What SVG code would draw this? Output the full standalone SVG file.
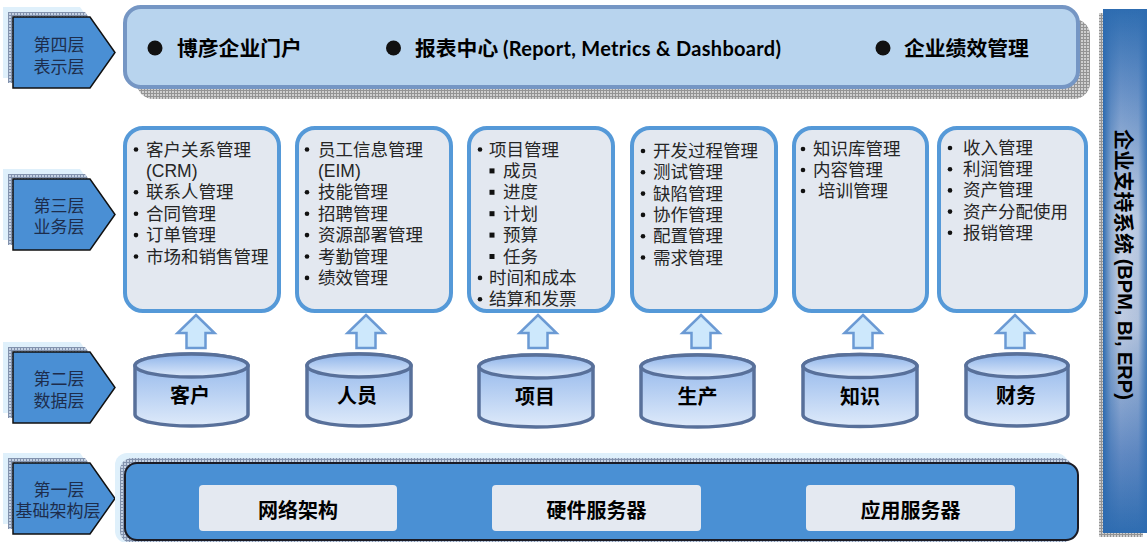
<svg xmlns="http://www.w3.org/2000/svg" width="1147" height="542" viewBox="0 0 1147 542">
<defs>
<pattern id="gridBlue" width="3" height="3" patternUnits="userSpaceOnUse">
<rect width="3" height="3" fill="#c3d0e2"/>
<path d="M0 0.5H3M0.5 0V3" stroke="#8292ad" stroke-width="1"/>
</pattern>
<pattern id="gridGray" width="3" height="3" patternUnits="userSpaceOnUse">
<rect width="3" height="3" fill="#cfcfcf"/>
<path d="M0 0.5H3M0.5 0V3" stroke="#939393" stroke-width="1"/>
</pattern>
<linearGradient id="cyl" x1="0" y1="0" x2="0" y2="1">
<stop offset="0" stop-color="#8db3ea"/>
<stop offset="1" stop-color="#deeafa"/>
</linearGradient>
<linearGradient id="sideV" x1="0" y1="0" x2="0" y2="1">
<stop offset="0" stop-color="#2e6db1"/>
<stop offset="0.15" stop-color="#6790c6"/>
<stop offset="0.4" stop-color="#c9d3e6"/>
<stop offset="0.6" stop-color="#bfcbe1"/>
<stop offset="0.85" stop-color="#6189c2"/>
<stop offset="1" stop-color="#2f6db1"/>
</linearGradient>
<linearGradient id="sideH" x1="0" y1="0" x2="1" y2="0">
<stop offset="0" stop-color="#2d6bb0" stop-opacity="1"/>
<stop offset="0.18" stop-color="#2d6bb0" stop-opacity="0.35"/>
<stop offset="0.4" stop-color="#2d6bb0" stop-opacity="0"/>
<stop offset="0.8" stop-color="#2d6bb0" stop-opacity="0.1"/>
<stop offset="1" stop-color="#2d6bb0" stop-opacity="0.85"/>
</linearGradient>
<polygon id="pent" points="0,0 77,0 102,35.5 77,71 0,71"/>
</defs>
<style>
.pent{fill:#4a8fd4;stroke:#111;stroke-width:1.5}
.glow{fill:#dff0fb}
.lbl{font-family:"Liberation Sans","Noto Sans CJK SC",sans-serif;font-size:17px;fill:#1d2d4c;text-anchor:middle}
.box3{fill:#e3e8f0;stroke:#5599d8;stroke-width:4}
.t3{font-family:"Liberation Sans","Noto Sans CJK SC",sans-serif;font-size:17.5px;fill:#262626}
.dot{fill:#111}
.arrow{fill:#cde8fc;stroke:#6b9ad4;stroke-width:2.5;stroke-linejoin:miter}
.cyl{fill:url(#cyl);stroke:#58709a;stroke-width:3.5}
.cl{font-family:"Noto Sans CJK SC","Noto Sans",sans-serif;font-size:20px;font-weight:bold;fill:#000;text-anchor:middle}
.top{font-family:"Noto Sans CJK SC","Noto Sans",sans-serif;font-size:20.8px;font-weight:bold;fill:#000}
.lat{font-family:Lato,"Open Sans",sans-serif;font-size:20px;letter-spacing:0.3px}
.inner{fill:#e4e9f1}
</style>

<g id="layer4-label">
<use href="#pent" x="3" y="7" class="glow"/>
<use href="#pent" x="8" y="12" fill="url(#gridBlue)"/>
<use href="#pent" x="13" y="17" class="pent"/>
<text class="lbl"><tspan x="59" y="51">第四层</tspan><tspan x="59" y="73">表示层</tspan></text>
</g>
<g id="layer3-label">
<use href="#pent" x="3" y="169" class="glow"/>
<use href="#pent" x="8" y="174" fill="url(#gridBlue)"/>
<use href="#pent" x="13" y="179" class="pent"/>
<text class="lbl"><tspan x="59" y="212">第三层</tspan><tspan x="59" y="233">业务层</tspan></text>
</g>
<g id="layer2-label">
<use href="#pent" x="3" y="342" class="glow"/>
<use href="#pent" x="8" y="347" fill="url(#gridBlue)"/>
<use href="#pent" x="13" y="352" class="pent"/>
<text class="lbl"><tspan x="59" y="385">第二层</tspan><tspan x="59" y="407">数据层</tspan></text>
</g>
<g id="layer1-label">
<use href="#pent" x="3" y="453" class="glow"/>
<use href="#pent" x="8" y="458" fill="url(#gridBlue)"/>
<use href="#pent" x="13" y="463" class="pent"/>
<text class="lbl"><tspan x="59" y="496">第一层</tspan><tspan x="58" y="517">基础架构层</tspan></text>
</g>

<g id="presentation">
<rect x="137" y="19" width="953" height="80" rx="16" fill="url(#gridGray)"/>
<rect x="125" y="7" width="953" height="80" rx="16" fill="#b8d4ee" stroke="#7596c4" stroke-width="4"/>
<circle class="dot" cx="155" cy="48" r="7.5"/>
<text class="top" x="177" y="56">博彦企业门户</text>
<circle class="dot" cx="393.5" cy="48" r="7.5"/>
<text class="top" x="415" y="56">报表中心 <tspan class="lat">(Report, Metrics &amp; Dashboard)</tspan></text>
<circle class="dot" cx="883" cy="48" r="7.5"/>
<text class="top" x="904" y="56">企业绩效管理</text>
</g>

<g id="biz-crm">
<rect class="box3" x="125" y="128" width="154" height="183" rx="18"/>
<g class="dot"><circle cx="136" cy="149.5" r="2.3"/><circle cx="136" cy="192.3" r="2.3"/><circle cx="136" cy="213.7" r="2.3"/><circle cx="136" cy="235.1" r="2.3"/><circle cx="136" cy="256.5" r="2.3"/></g>
<text class="t3"><tspan x="146" y="155.5">客户关系管理</tspan><tspan x="146" y="176.9">(CRM)</tspan><tspan x="146" y="198.3">联系人管理</tspan><tspan x="146" y="219.7">合同管理</tspan><tspan x="146" y="241.1">订单管理</tspan><tspan x="146" y="262.5">市场和销售管理</tspan></text>
</g>

<g id="biz-eim">
<rect class="box3" x="297" y="128" width="154" height="183" rx="18"/>
<g class="dot"><circle cx="307" cy="149.5" r="2.3"/><circle cx="307" cy="192.3" r="2.3"/><circle cx="307" cy="213.7" r="2.3"/><circle cx="307" cy="235.1" r="2.3"/><circle cx="307" cy="256.5" r="2.3"/><circle cx="307" cy="277.9" r="2.3"/></g>
<text class="t3"><tspan x="318" y="155.5">员工信息管理</tspan><tspan x="318" y="176.9">(EIM)</tspan><tspan x="318" y="198.3">技能管理</tspan><tspan x="318" y="219.7">招聘管理</tspan><tspan x="318" y="241.1">资源部署管理</tspan><tspan x="318" y="262.5">考勤管理</tspan><tspan x="318" y="283.9">绩效管理</tspan></text>
</g>

<g id="biz-project">
<rect class="box3" x="469" y="128" width="144" height="183" rx="18"/>
<g class="dot"><circle cx="480" cy="149.5" r="2.3"/><circle cx="480" cy="277.9" r="2.3"/><circle cx="480" cy="299.3" r="2.3"/>
<rect x="489.5" y="168.4" width="5" height="5"/><rect x="489.5" y="189.8" width="5" height="5"/><rect x="489.5" y="211.2" width="5" height="5"/><rect x="489.5" y="232.6" width="5" height="5"/><rect x="489.5" y="254" width="5" height="5"/></g>
<text class="t3"><tspan x="489" y="155.5">项目管理</tspan><tspan x="503" y="176.9">成员</tspan><tspan x="503" y="198.3">进度</tspan><tspan x="503" y="219.7">计划</tspan><tspan x="503" y="241.1">预算</tspan><tspan x="503" y="262.5">任务</tspan><tspan x="489" y="283.9">时间和成本</tspan><tspan x="489" y="305.3">结算和发票</tspan></text>
</g>

<g id="biz-dev">
<rect class="box3" x="632" y="128" width="144" height="183" rx="18"/>
<g class="dot"><circle cx="643" cy="151" r="2.3"/><circle cx="643" cy="172.3" r="2.3"/><circle cx="643" cy="193.6" r="2.3"/><circle cx="643" cy="214.9" r="2.3"/><circle cx="643" cy="236.2" r="2.3"/><circle cx="643" cy="257.5" r="2.3"/></g>
<text class="t3"><tspan x="653" y="157">开发过程管理</tspan><tspan x="653" y="178.3">测试管理</tspan><tspan x="653" y="199.6">缺陷管理</tspan><tspan x="653" y="220.9">协作管理</tspan><tspan x="653" y="242.2">配置管理</tspan><tspan x="653" y="263.5">需求管理</tspan></text>
</g>

<g id="biz-knowledge">
<rect class="box3" x="794" y="128" width="133" height="183" rx="18"/>
<g class="dot"><circle cx="803" cy="149" r="2.3"/><circle cx="803" cy="170" r="2.3"/><circle cx="803" cy="191" r="2.3"/></g>
<text class="t3"><tspan x="813" y="155">知识库管理</tspan><tspan x="813" y="176">内容管理</tspan><tspan x="818" y="197">培训管理</tspan></text>
</g>

<g id="biz-finance">
<rect class="box3" x="939" y="128" width="147" height="183" rx="18"/>
<g class="dot"><circle cx="950" cy="148" r="2.3"/><circle cx="950" cy="169.2" r="2.3"/><circle cx="950" cy="190.4" r="2.3"/><circle cx="950" cy="211.6" r="2.3"/><circle cx="950" cy="232.8" r="2.3"/></g>
<text class="t3"><tspan x="963" y="154">收入管理</tspan><tspan x="963" y="175.2">利润管理</tspan><tspan x="963" y="196.4">资产管理</tspan><tspan x="963" y="217.6">资产分配使用</tspan><tspan x="963" y="238.8">报销管理</tspan></text>
</g>

<g id="connectors">
<polygon class="arrow" points="196,315 214.5,333 205.5,333 205.5,348 186.5,348 186.5,333 177.5,333"/>
<polygon class="arrow" points="366,315 384.5,333 375.5,333 375.5,348 356.5,348 356.5,333 347.5,333"/>
<polygon class="arrow" points="538,315 556.5,333 547.5,333 547.5,348 528.5,348 528.5,333 519.5,333"/>
<polygon class="arrow" points="701,315 719.5,333 710.5,333 710.5,348 691.5,348 691.5,333 682.5,333"/>
<polygon class="arrow" points="863,315 881.5,333 872.5,333 872.5,348 853.5,348 853.5,333 844.5,333"/>
<polygon class="arrow" points="1015,315 1033.5,333 1024.5,333 1024.5,348 1005.5,348 1005.5,333 996.5,333"/>
</g>

<g id="db-customer">
<path class="cyl" d="M135,365.5 A56.5,11.5 0 0 1 248,365.5 V414.5 A56.5,11.5 0 0 1 135,414.5 Z"/>
<ellipse class="cyl" cx="191.5" cy="365.5" rx="56.5" ry="11.5"/>
<text class="cl" x="190" y="403">客户</text>
</g>
<g id="db-staff">
<path class="cyl" d="M307,365.5 A52,11.5 0 0 1 411,365.5 V414.5 A52,11.5 0 0 1 307,414.5 Z"/>
<ellipse class="cyl" cx="359" cy="365.5" rx="52" ry="11.5"/>
<text class="cl" x="357" y="403">人员</text>
</g>
<g id="db-project">
<path class="cyl" d="M479,366.5 A57,11.5 0 0 1 593,366.5 V415.5 A57,11.5 0 0 1 479,415.5 Z"/>
<ellipse class="cyl" cx="536" cy="366.5" rx="57" ry="11.5"/>
<text class="cl" x="535" y="404">项目</text>
</g>
<g id="db-production">
<path class="cyl" d="M641,366.5 A56.5,11.5 0 0 1 754,366.5 V415.5 A56.5,11.5 0 0 1 641,415.5 Z"/>
<ellipse class="cyl" cx="697.5" cy="366.5" rx="56.5" ry="11.5"/>
<text class="cl" x="697.5" y="404">生产</text>
</g>
<g id="db-knowledge">
<path class="cyl" d="M803,366 A57,11.5 0 0 1 917,366 V415 A57,11.5 0 0 1 803,415 Z"/>
<ellipse class="cyl" cx="860" cy="366" rx="57" ry="11.5"/>
<text class="cl" x="860" y="404">知识</text>
</g>
<g id="db-finance">
<path class="cyl" d="M966,365.5 A51,11.5 0 0 1 1068,365.5 V414.5 A51,11.5 0 0 1 966,414.5 Z"/>
<ellipse class="cyl" cx="1017" cy="365.5" rx="51" ry="11.5"/>
<text class="cl" x="1016" y="403">财务</text>
</g>

<g id="infrastructure">
<rect x="115" y="453" width="953" height="90" rx="12" class="glow"/>
<rect x="120" y="458" width="953" height="85" rx="12" fill="url(#gridBlue)"/>
<rect x="125" y="463" width="953" height="77" rx="12" fill="#4a90d4" stroke="#1b1b24" stroke-width="2"/>
<rect class="inner" x="199" y="485" width="198" height="46" rx="4"/>
<text class="cl" x="298" y="518">网络架构</text>
<rect class="inner" x="492" y="485" width="209" height="46" rx="4"/>
<text class="cl" x="596.5" y="518">硬件服务器</text>
<rect class="inner" x="806" y="485" width="209" height="46" rx="4"/>
<text class="cl" x="910.5" y="518">应用服务器</text>
</g>

<g id="support-system">
<rect x="1099" y="13" width="44" height="524" fill="url(#gridGray)"/>
<rect x="1103" y="9" width="44" height="524" fill="url(#sideV)"/>
<rect x="1103" y="9" width="44" height="524" fill="url(#sideH)"/>
<text class="top" x="1125" y="264.5" text-anchor="middle" dominant-baseline="central" transform="rotate(90 1125 264.5)">企业支持系统 <tspan font-family="'Liberation Sans',Arial,sans-serif" font-size="20px">(BPM, BI, ERP)</tspan></text>
</g>
</svg>
